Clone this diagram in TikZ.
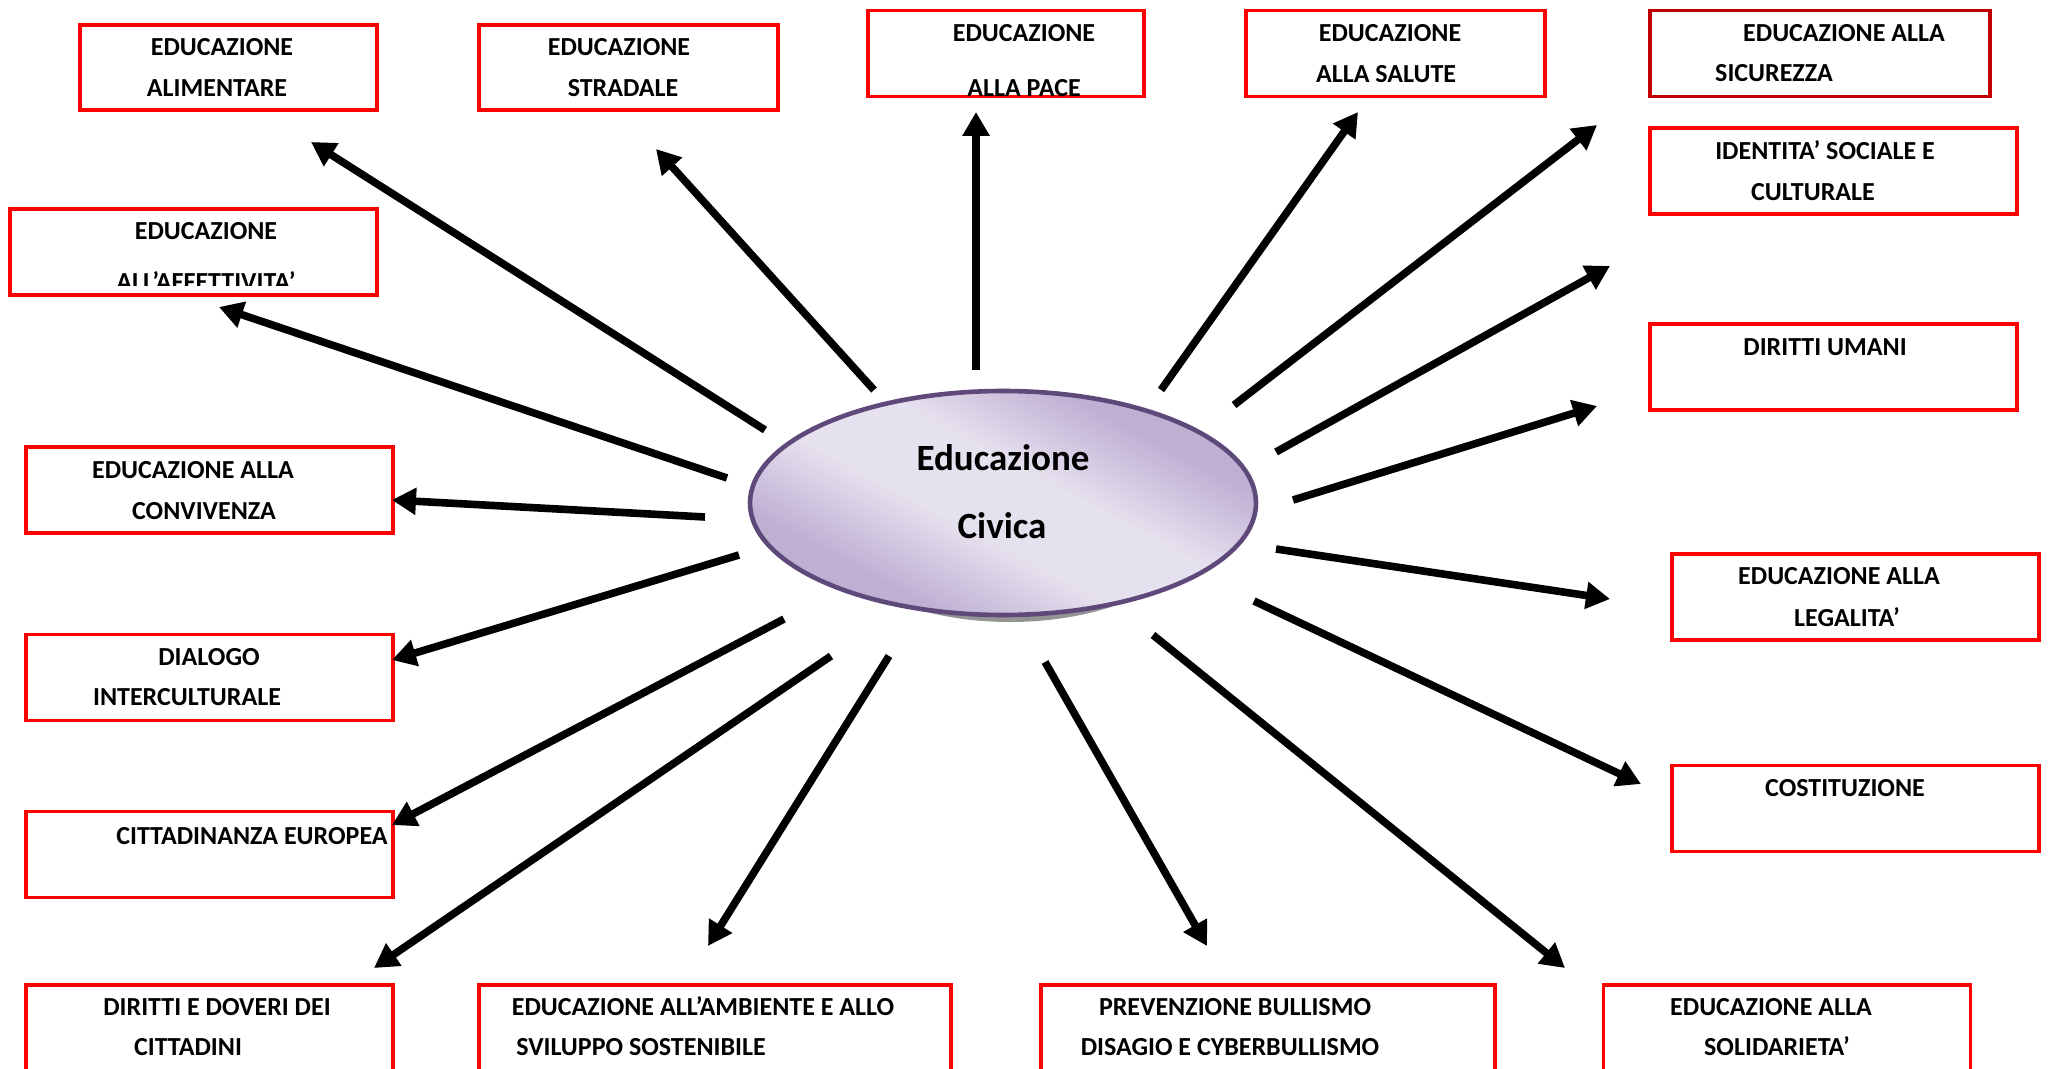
\documentclass[tikz,border=0pt]{standalone}
\usepackage{fontspec}
\setmainfont{Carlito}
\usetikzlibrary{arrows.meta,shapes.geometric}
\definecolor{boxred}{HTML}{FF0000}
\definecolor{sicred}{HTML}{C00000}
\definecolor{civline}{HTML}{5F497A}
\definecolor{civlight}{HTML}{E6E1EE}
\definecolor{civdark}{HTML}{BEAFD3}
\pgfdeclarehorizontalshading{civshade}{100bp}{color(0bp)=(civdark);
    color(30bp)=(civdark); color(44bp)=(civlight); color(56bp)=(civlight);
    color(70bp)=(civdark); color(100bp)=(civdark)}

\begin{document}
\begin{tikzpicture}[x=0.5pt,y=-0.5pt,
        box/.style={draw=boxred, line width=1.7pt, inner sep=0pt,
                        minimum width=183.5pt, minimum height=43pt},
        lbl/.style={font=\bfseries\fontsize{13}{15}\selectfont,
                        inner sep=0pt, anchor=base, yshift=-4.2pt},
        civtxt/.style={font=\bfseries\fontsize{18.5}{22}\selectfont,
                        inner sep=0pt, anchor=base, yshift=-6pt},
        arr/.style={line width=3.8pt, -{Triangle[length=12pt,width=13pt]}}]

    \fill[white] (0,0) rectangle (2048,1069);
    \useasboundingbox (0,0) rectangle (2048,1069);

    % central ellipse
    \fill[black!42] (1010,512) ellipse [x radius=200, y radius=110];
    \node[ellipse, draw=civline, line width=2.3pt,
          shading=civshade, shading angle=62,
          minimum width=253pt, minimum height=112pt] (civ) at (1003,503) {};
    \node[civtxt] (civ1) at (1003,458) {Educazione};
    \node[civtxt] (civ2) at (1002,526) {Civica};

    % boxes
    \node[box, minimum width=148.5pt, minimum height=42.5pt] (alim) at (228.5,67.5) {};
    \node[box, minimum width=149.5pt, minimum height=42.5pt] (strad) at (628.5,67.5) {};
    \node[box, minimum width=138pt] (pace) at (1006,53.5) {};
    \node[box, minimum width=149.5pt] (salute) at (1395.5,53.5) {};
    \node[box, draw=sicred, minimum width=170pt] (sicur) at (1820,53.5) {};
    \node[box] (ident) at (1833.5,171) {};
    \node[box] (affett) at (193.5,252) {};
    \node[box] (umani) at (1833.5,367) {};
    \node[box] (conviv) at (209.5,490) {};
    \node[box] (legal) at (1855.5,597) {};
    \node[box] (dialog) at (209.5,677.5) {};
    \node[box] (costit) at (1855.5,808.5) {};
    \node[box] (europ) at (209.5,854.5) {};
    \node[box, minimum height=55pt] (doveri) at (209.5,1040) {};
    \node[box, minimum width=236pt, minimum height=55pt] (ambiente) at (715,1040) {};
    \node[box, minimum width=227pt, minimum height=55pt] (bullismo) at (1268,1040) {};
    \node[box, minimum height=55pt] (solid) at (1787,1040) {};

    % labels
    \node[lbl] (alim1) at (222,47) {EDUCAZIONE};
    \node[lbl] (alim2) at (217,88) {ALIMENTARE};
    \node[lbl] (strad1) at (619,47) {EDUCAZIONE};
    \node[lbl] (strad2) at (623,88) {STRADALE};
    \node[lbl] (pace1) at (1024,33) {EDUCAZIONE};
    \begin{scope}
        \clip (pace.north west) rectangle ([yshift=1pt]pace.south east);
        \node[lbl] (pace2) at (1024,88) {ALLA PACE};
    \end{scope}
    \node[lbl] (salute1) at (1390,33) {EDUCAZIONE};
    \node[lbl] (salute2) at (1386,74) {ALLA SALUTE};
    \node[lbl] (sicur1) at (1844,33) {EDUCAZIONE ALLA};
    \node[lbl] (sicur2) at (1774,73) {SICUREZZA};
    \node[lbl] (ident1) at (1825,151) {IDENTITA’ SOCIALE E};
    \node[lbl] (ident2) at (1813,192) {CULTURALE};
    \node[lbl] (affett1) at (206,231) {EDUCAZIONE};
    \begin{scope}
        \clip (affett.north west) rectangle ([yshift=5.5pt]affett.south east);
        \node[lbl] (affett2) at (206,282) {ALL’AFFETTIVITA’};
    \end{scope}
    \node[lbl] (umani1) at (1825,347) {DIRITTI UMANI};
    \node[lbl] (conviv1) at (193,470) {EDUCAZIONE ALLA};
    \node[lbl] (conviv2) at (204,511) {CONVIVENZA};
    \node[lbl] (legal1) at (1839,576) {EDUCAZIONE ALLA};
    \node[lbl] (legal2) at (1847,618) {LEGALITA’};
    \node[lbl] (dialog1) at (209,657) {DIALOGO};
    \node[lbl] (dialog2) at (187,697) {INTERCULTURALE};
    \node[lbl] (costit1) at (1845,788) {COSTITUZIONE};
    \node[lbl] (europ1) at (252,836) {CITTADINANZA EUROPEA};
    \node[lbl] (doveri1) at (217,1007) {DIRITTI E DOVERI DEI};
    \node[lbl] (doveri2) at (188,1047) {CITTADINI};
    \node[lbl] (ambiente1) at (703,1007) {EDUCAZIONE ALL’AMBIENTE E ALLO};
    \node[lbl] (ambiente2) at (641,1047) {SVILUPPO SOSTENIBILE};
    \node[lbl] (bullismo1) at (1235,1007) {PREVENZIONE BULLISMO};
    \node[lbl] (bullismo2) at (1230,1047) {DISAGIO E CYBERBULLISMO};
    \node[lbl] (solid1) at (1771,1007) {EDUCAZIONE ALLA};
    \node[lbl] (solid2) at (1777,1047) {SOLIDARIETA’};

    % arrows out of the ellipse
    \foreach \n/\sx/\sy/\tx/\ty in {
            a/765/430/311/142, b/874/390/656/149, c/976/370/976/112,
            d/1161/390/1358/112, e/1234/405/1597/125, f/1276/452/1610/266,
            g/1293/500/1597/406, h/1276/549/1610/599, i/1254/601/1641/784,
            j/1153/635/1565/968, k/1045/662/1207/946, l/889/656/708/946,
            m/831/656/374/968, n/784/619/392/825, o/739/555/392/660,
            p/705/517/392/500, q/727/478/219/307} {
        \coordinate (s\n) at (\sx,\sy);
        \coordinate (t\n) at (\tx,\ty);
        \draw[arr] (s\n) -- (t\n);
    }
\end{tikzpicture}
\end{document}
